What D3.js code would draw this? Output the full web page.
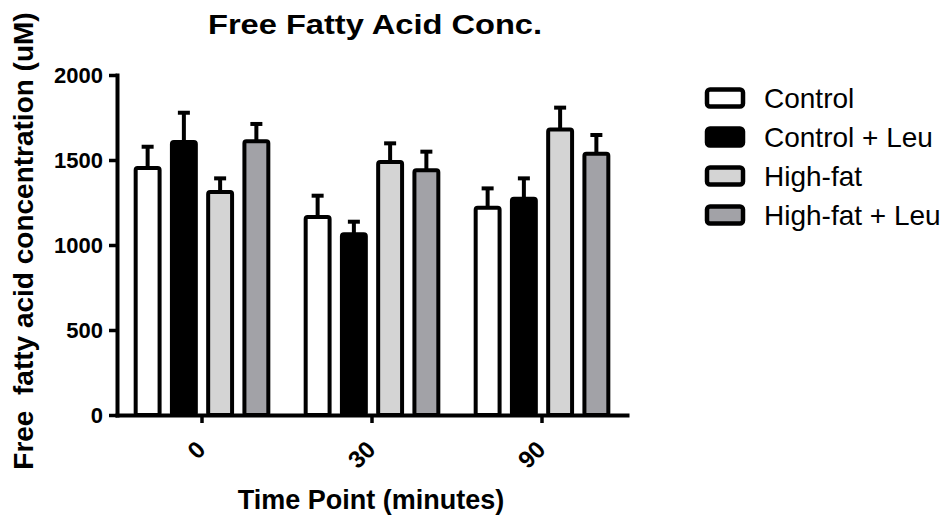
<!DOCTYPE html>
<html>
<head>
<meta charset="utf-8">
<script src="https://cdn.jsdelivr.net/npm/d3@7"></script>
<style>
  body { margin: 0; background: #fff; }
  svg { font-family: Arial, "Liberation Sans", sans-serif; }
</style>
</head>
<body>
<div id="chart"></div>
<script>
// values
const timePoints = ["0", "30", "90"];
const groups = ["Control", "Control + Leu", "High-fat", "High-fat + Leu"];
const groupFill = ["#ffffff", "#000000", "#d4d4d4", "#a2a2a7"];

const controlMean = [1453, 1164, 1219];
const controlLeuMean = [1606, 1063, 1272];
const highFatMean = [1312, 1488, 1680];
const highFatLeuMean = [1610, 1439, 1537];

const controlErr = [125, 126, 114];
const controlLeuErr = [172, 74, 120];
const highFatErr = [80, 110, 128];
const highFatLeuErr = [102, 110, 110];

const yTicks = [0, 500, 1000, 1500, 2000];

const means = [controlMean, controlLeuMean, highFatMean, highFatLeuMean];
const errs = [controlErr, controlLeuErr, highFatErr, highFatLeuErr];

// flat table for drawing
var rows = [];
timePoints.forEach(function (t, i) {
  groups.forEach(function (g, j) {
    rows.push({ time: t, group: g, fill: groupFill[j], mean: means[j][i], err: errs[j][i] });
  });
});

var svg = d3.select("#chart").append("svg").attr("width", 944).attr("height", 517);

// X axis (time points) and inner band for groups
var x0 = d3.scaleBand().domain(timePoints).range([117, 627]).padding(0);
var x1 = d3.scaleBand().domain(groups).range([0, x0.bandwidth()])
    .paddingInner(0.23).paddingOuter(0.46);

// Y axis
var y = d3.scaleLinear().domain([0, 2000]).range([415, 75]);

// bars
var bar = svg.append("g").selectAll("g")
    .data(rows)
    .enter()
    .append("g")
      .attr("transform", function (d) { return "translate(" + (x0(d.time) + x1(d.group)) + ",0)"; });

var bw = x1.bandwidth();

// error bars (upper only)
bar.append("line")
    .attr("x1", bw / 2).attr("x2", bw / 2)
    .attr("y1", function (d) { return y(d.mean); })
    .attr("y2", function (d) { return y(d.mean + d.err); })
    .attr("stroke", "#000").attr("stroke-width", 4);
bar.append("line")
    .attr("x1", bw / 2 - 6).attr("x2", bw / 2 + 6)
    .attr("y1", function (d) { return y(d.mean + d.err); })
    .attr("y2", function (d) { return y(d.mean + d.err); })
    .attr("stroke", "#000").attr("stroke-width", 4);

bar.append("rect")
    .attr("x", 2)
    .attr("width", bw - 4)
    .attr("y", function (d) { return y(d.mean); })
    .attr("height", function (d) { return y(0) - y(d.mean); })
    .attr("rx", 2)
    .style("fill", function (d) { return d.fill; })
    .style("stroke", "#000")
    .style("stroke-width", 4);

// axes
var yAxis = svg.append("g")
    .attr("transform", "translate(117,0)")
    .call(d3.axisLeft(y).tickValues(yTicks).tickFormat(d3.format("d"))
      .tickSize(8).tickSizeOuter(0).tickPadding(6));

var xAxis = svg.append("g")
    .attr("transform", "translate(0,415)")
    .call(d3.axisBottom(x0).tickSize(8).tickSizeOuter(0));

[yAxis, xAxis].forEach(function (ax) {
  ax.select(".domain").attr("stroke", "#000").attr("stroke-width", 4).attr("stroke-linecap", "square");
  ax.selectAll(".tick line").attr("stroke", "#000").attr("stroke-width", 3.5);
  ax.selectAll("text")
    .attr("fill", "#000")
    .style("font-family", "Arial, 'Liberation Sans', sans-serif")
    .style("font-size", "22px")
    .style("font-weight", "bold");
});

xAxis.selectAll(".tick text")
    .attr("x", 0).attr("y", 0).attr("dy", "0.35em")
    .attr("text-anchor", "end")
    .style("font-size", "24px")
    .attr("transform", "translate(-1,30) rotate(-45)");

// titles
svg.append("text")
    .attr("x", 375).attr("y", 34)
    .attr("text-anchor", "middle")
    .attr("textLength", 334).attr("lengthAdjust", "spacingAndGlyphs")
    .style("font-size", "28px").style("font-weight", "bold")
    .text("Free Fatty Acid Conc.");

svg.append("text")
    .attr("x", 371).attr("y", 509)
    .attr("text-anchor", "middle")
    .style("font-size", "27px").style("font-weight", "bold")
    .text("Time Point (minutes)");

svg.append("text")
    .attr("transform", "translate(33,241) rotate(-90)")
    .attr("text-anchor", "middle")
    .style("font-size", "28px").style("font-weight", "bold")
    .style("white-space", "pre")
    .text("Free  fatty acid concentration (uM)");

// legend
var legend = svg.append("g").selectAll("g")
    .data(groups)
    .enter()
    .append("g")
      .attr("transform", function (d, i) { return "translate(705," + (98 + i * 39) + ")"; });

legend.append("rect")
    .attr("x", 2).attr("y", -8.5)
    .attr("width", 36).attr("height", 17)
    .attr("rx", 3)
    .style("fill", function (d, i) { return groupFill[i]; })
    .style("stroke", "#000")
    .style("stroke-width", 4.5);

legend.append("text")
    .attr("x", 59).attr("y", 0).attr("dy", "0.36em")
    .style("font-size", "28px")
    .text(function (d) { return d; });
</script>
</body>
</html>
